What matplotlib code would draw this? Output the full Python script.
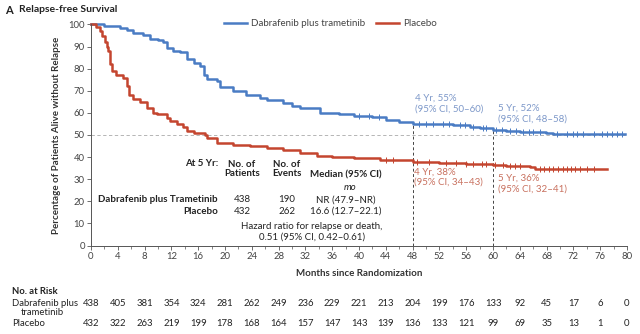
import numpy as np
import matplotlib
matplotlib.use('Agg')
import matplotlib.pyplot as plt
import matplotlib.transforms as mtransforms
from matplotlib.lines import Line2D

plt.rcParams['font.family'] = ['Lato', 'DejaVu Sans']

# Kaplan-Meier steps
dab_months = [0, 2, 4.3, 5.3, 6.3, 7.8, 8.8, 10, 10.8, 11.3, 12.3, 13.3, 14.3, 15.3, 16.3, 16.8,
              17.3, 18.8, 19.3, 21.2, 23.2, 25.2, 26.2, 28.7, 30, 31.2, 34.2, 37, 39.2, 42, 44.1,
              46, 48, 52, 54, 56.5, 58, 60, 62, 64, 67.9, 69, 79.7]
dab_surv = [100, 99.3, 98.5, 97.5, 96, 95.2, 93.5, 92.8, 92, 89.5, 88, 87.5, 84.5, 82.5, 81, 77,
            75.5, 74.5, 71.5, 70, 68, 66.7, 66, 64.5, 63.2, 62, 60, 59.6, 58.7, 58, 57,
            56, 55, 54.8, 54.4, 53.6, 53, 52.2, 52, 51.5, 50.8, 50.3, 50.3]

pla_months = [0, 0.8, 1.3, 1.7, 2.1, 2.4, 2.6, 2.8, 3.1, 3.8, 4.8, 5.3, 5.6, 6.3, 7.3, 8.3, 9.3,
              9.8, 11.3, 11.8, 12.8, 13.8, 14.3, 15.3, 17.0, 17.3, 18.8, 21.2, 23.7, 26.2, 28.7,
              31.2, 33.7, 36, 39.2, 43.2, 48, 52, 56, 60, 62, 65.5, 66.3, 77]
pla_surv = [100, 99, 97, 95, 92, 90, 88, 82, 79, 77, 76, 72, 68, 66.5, 65, 62, 60,
            59.5, 57.5, 56.5, 55, 53.5, 52, 51, 50, 48.5, 46.5, 45.5, 45, 44.2, 43,
            42, 40.5, 40, 39.5, 38.5, 38, 37.5, 37, 36.2, 36, 35.5, 34.8, 34.8]

# censor times (tick marks on the curves)
dab_censor = [40, 41.5, 43, 49, 50, 51, 52.5, 53.5, 55, 55.8, 57, 58.5, 59, 60.5, 61.3, 62.5, 63.5,
              64.5, 65.3, 66, 67, 69.5, 71, 72, 72.6, 73.5, 75, 76.3, 77, 77.8, 78.5, 79.3]
pla_censor = [44, 45, 48.6, 50.5, 53, 54.5, 56, 57, 58.3, 59, 60.3, 61.5, 62.5, 63.3, 64,
              67, 67.6, 68.3, 69, 69.7, 70.5, 71, 71.6, 72.3, 73, 74, 75]

risk_months = list(range(0, 81, 4))
risk_dab = [438, 405, 381, 354, 324, 281, 262, 249, 236, 229, 221, 213, 204, 199, 176, 133, 92, 45, 17, 6, 0]
risk_pla = [432, 322, 263, 219, 199, 178, 168, 164, 157, 147, 143, 139, 136, 133, 121, 99, 69, 35, 13, 1, 0]

groups = ['Dabrafenib plus Trametinib', 'Placebo']
n_patients = [438, 432]
n_events = [190, 262]
medians = ['NR (47.9\u2013NR)', '16.6 (12.7\u201322.1)']

blue = '#4a7cc4'
red = '#c4452f'
blue_txt = '#7d98c9'
red_txt = '#c8705e'
grey = '#444444'

W, H = 640, 334
fig = plt.figure(figsize=(W / 100, H / 100), dpi=100)
ax = fig.add_axes([91 / W, (H - 245.5) / H, (627 - 91) / W, (245.5 - 24.5) / H])


def px(x, y):
    return x / W, 1 - y / H


def step_val(months, surv, t):
    i = np.searchsorted(months, t, side='right') - 1
    return surv[i]


ax.step(dab_months, dab_surv, where='post', color=blue, lw=1.8, clip_on=False)
ax.step(pla_months, pla_surv, where='post', color=red, lw=1.8, clip_on=False)
ax.plot(dab_censor, [step_val(dab_months, dab_surv, t) for t in dab_censor], ls='none',
        marker='|', ms=4, mew=0.7, color=blue)
ax.plot(pla_censor, [step_val(pla_months, pla_surv, t) for t in pla_censor], ls='none',
        marker='|', ms=4, mew=0.7, color=red)

ax.axhline(50, color='#aaaaaa', lw=0.6, ls=(0, (4, 3)), zorder=0)
ax.plot([48, 48], [0, 55], color='#444444', lw=0.7, ls=(0, (3, 2.5)), zorder=0)
ax.plot([60, 60], [0, 52.5], color='#444444', lw=0.7, ls=(0, (3, 2.5)), zorder=0)

ax.set_xlim(0, 80)
ax.set_ylim(0, 100)
ax.set_xticks(range(0, 81, 4))
ax.set_xticks(range(0, 81, 2), minor=True)
ax.set_yticks(range(0, 101, 10))
for s in ['top', 'right']:
    ax.spines[s].set_visible(False)
for s in ['left', 'bottom']:
    ax.spines[s].set_color('#555555')
    ax.spines[s].set_linewidth(0.7)
ax.tick_params(axis='both', which='major', labelsize=6.8, colors='#555555', labelcolor=grey,
               length=3, width=0.6, pad=1.5)
ax.tick_params(axis='x', which='minor', length=2, width=0.5, colors='#555555')

# annotations at 4 and 5 years
ax.text(48.3, 64.2, '4 Yr, 55%\n(95% CI, 50\u201360)', color=blue_txt, fontsize=7, va='center')
ax.text(60.7, 59.6, '5 Yr, 52%\n(95% CI, 48\u201358)', color=blue_txt, fontsize=7, va='center')
ax.text(48.2, 31.0, '4 Yr, 38%\n(95% CI, 34\u201343)', color=red_txt, fontsize=7, va='center')
ax.text(60.8, 28.0, '5 Yr, 36%\n(95% CI, 32\u201341)', color=red_txt, fontsize=7, va='center')

# legend
handles = [Line2D([], [], color=blue, lw=1.8), Line2D([], [], color=red, lw=1.8)]
fig.legend(handles, ['Dabrafenib plus trametinib', 'Placebo'], loc='center left',
           bbox_to_anchor=px(224, 24), ncol=2, frameon=False, fontsize=7,
           handlelength=2.4, handletextpad=0.4, columnspacing=1.1, borderpad=0,
           borderaxespad=0, labelcolor=grey)

# titles and axis labels
fig.text(*px(5, 10), 'A', fontsize=8, fontweight='bold', color='#222222', va='center')
fig.text(*px(19, 10), 'Relapse-free Survival', fontsize=7.5, fontweight='bold', color='#222222', va='center')
fig.text(*px(57, 135), 'Percentage of Patients Alive without Relapse', rotation=90, fontsize=7,
         fontweight='bold', color='#333333', ha='center', va='center')
fig.text(*px(359, 273), 'Months since Randomization', fontsize=7, fontweight='bold',
         color='#333333', ha='center', va='center')

# summary table inside the plot
tk = dict(fontsize=7, color='#222222', va='center')
fig.text(*px(218, 163), 'At 5 Yr:', ha='right', fontweight='bold', **tk)
fig.text(*px(242, 169), 'No. of\nPatients', ha='center', fontweight='bold', linespacing=1.05, **tk)
fig.text(*px(287, 169), 'No. of\nEvents', ha='center', fontweight='bold', linespacing=1.05, **tk)
fig.text(*px(346, 175), 'Median (95% CI)', ha='center', fontweight='bold', **tk)
fig.text(*px(350, 187), 'mo', ha='center', style='italic', **tk)
for i, y in enumerate([200, 211]):
    fig.text(*px(218, y), groups[i], ha='right', fontweight='bold', **tk)
    fig.text(*px(242, y), str(n_patients[i]), ha='center', **tk)
    fig.text(*px(287, y), str(n_events[i]), ha='center', **tk)
    fig.text(*px(346, y), medians[i], ha='center', **tk)
fig.text(*px(312, 232), 'Hazard ratio for relapse or death,\n0.51 (95% CI, 0.42\u20130.61)',
         ha='center', linespacing=1.15, **tk)

# number at risk
rk = dict(fontsize=6.8, color='#222222', va='center')
fig.text(*px(12, 292), 'No. at Risk', fontweight='bold', **rk)
fig.text(*px(12, 304), 'Dabrafenib plus', **rk)
fig.text(*px(21, 312.5), 'trametinib', **rk)
fig.text(*px(12, 323), 'Placebo', **rk)
trans = mtransforms.blended_transform_factory(ax.transData, fig.transFigure)
for m, a, b in zip(risk_months, risk_dab, risk_pla):
    ax.text(m, 1 - 304 / H, str(a), transform=trans, ha='center', clip_on=False, **rk)
    ax.text(m, 1 - 323 / H, str(b), transform=trans, ha='center', clip_on=False, **rk)

fig.savefig('out.png', dpi=100)
